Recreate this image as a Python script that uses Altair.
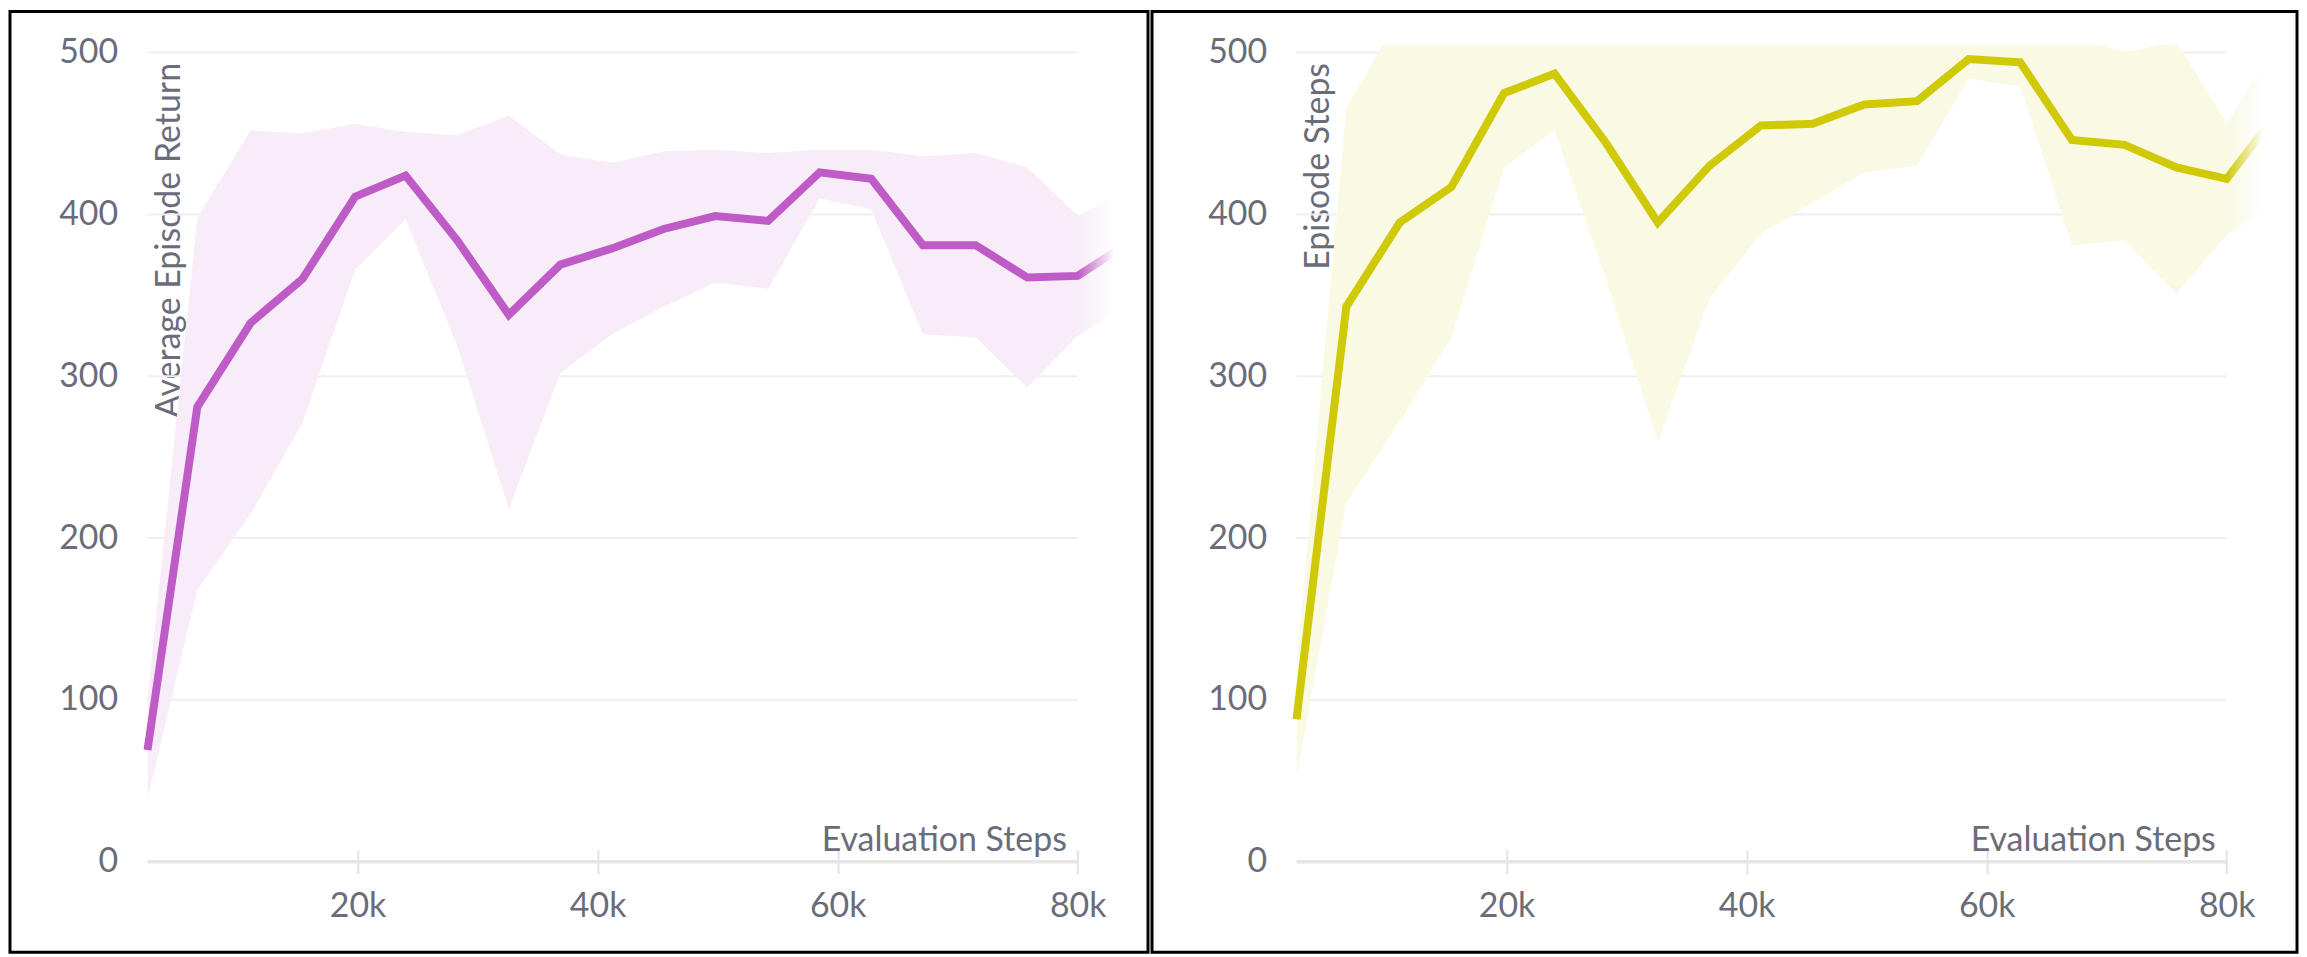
import altair as alt
import pandas as pd

# ---- data ----
steps = [2500, 6650, 11100, 15400, 19800, 24000, 28300, 32600, 36900, 41200,
         45500, 49800, 54200, 58500, 62800, 67100, 71500, 75800, 80000, 83100]

ret_mean = [69, 281, 333, 360, 411, 424, 384, 338, 369, 379,
            391, 399, 396, 426, 422, 381, 381, 361, 362, 377]
ret_max = [100, 398, 452, 450, 456, 451, 449, 461, 437, 432,
           439, 440, 438, 440, 440, 436, 438, 429, 399, 411]
ret_min = [39, 168, 215, 271, 366, 397, 319, 218, 302, 326,
           343, 358, 354, 410, 403, 326, 324, 293, 325, 339]

len_mean = [88, 343, 395, 417, 475, 487, 444, 395, 430, 455,
            456, 468, 470, 496, 494, 446, 443, 429, 422, 452]
len_max = [120, 466, 523, 530, 535, 530, 525, 515, 520, 528,
           530, 530, 530, 535, 530, 510, 500, 507, 456, 494]
len_min = [52, 222, 272, 324, 429, 452, 360, 259, 348, 388,
           407, 426, 430, 484, 479, 381, 384, 351, 387, 403]

y_ticks = [0, 100, 200, 300, 400, 500]
x_ticks = [20000, 40000, 60000, 80000]

# ---- style ----
FONT = "Lato"
TEXT = "#6b6c7a"
FS = 34
W, H = 972, 820
Y_MAX = 505
X_MIN, X_MAX = 2500, 83200
GRID_END = 80000
FADE_END = 84500


def panel(mean, lo, hi, color, band_color, title, frame_left):
    df = pd.DataFrame({"step": steps, "mean": mean, "lo": lo, "hi": hi})
    xs = alt.Scale(domain=[X_MIN, X_MAX], nice=False, zero=False)
    ys = alt.Scale(domain=[0, Y_MAX], nice=False)

    x_axis = alt.Axis(
        values=x_ticks, labelExpr="datum.value / 1000 + 'k'",
        domain=False, grid=False, ticks=True, tickSize=24, tickWidth=2,
        tickColor="#e4e4e8", offset=-12, labelFlush=False, labelOverlap=False,
        labelFont=FONT, labelFontSize=FS, labelColor=TEXT, labelPadding=43,
        labelBaseline="alphabetic",
        title="Evaluation Steps", titleFont=FONT, titleFontSize=FS,
        titleFontWeight="normal", titleColor=TEXT, titleAlign="right",
        titleBaseline="alphabetic", titleX=922, titleY=1,
    )
    y_axis = alt.Axis(
        values=y_ticks, domain=False, ticks=False, grid=False,
        labelFont=FONT, labelFontSize=FS, labelColor=TEXT, labelPadding=30,
        labelBaseline="middle",
        title=title, titleFont=FONT, titleFontSize=FS, titleFontWeight="normal",
        titleColor=TEXT, titleAngle=-90, titleAlign="right",
        titleBaseline="alphabetic", titleX=32, titleY=18,
    )

    grid_df = pd.DataFrame({"y": y_ticks[1:], "x0": [X_MIN] * 5, "x1": [GRID_END] * 5})
    grid = alt.Chart(grid_df).mark_rule(color="#efeff2", strokeWidth=2).encode(
        x=alt.X("x0:Q", scale=xs, axis=x_axis),
        x2="x1:Q",
        y=alt.Y("y:Q", scale=ys, axis=y_axis),
    )
    base_df = pd.DataFrame({"y": [0], "x0": [X_MIN], "x1": [GRID_END]})
    baseline = alt.Chart(base_df).mark_rule(color="#e6e6e9", strokeWidth=3.5).encode(
        x=alt.X("x0:Q", scale=xs, axis=x_axis),
        x2="x1:Q",
        y=alt.Y("y:Q", scale=ys, axis=y_axis),
    )
    band = alt.Chart(df).mark_area(color=band_color, clip=True).encode(
        x=alt.X("step:Q", scale=xs, axis=x_axis),
        y=alt.Y("lo:Q", scale=ys, axis=y_axis),
        y2="hi:Q",
    )
    line = alt.Chart(df).mark_line(color=color, strokeWidth=8, clip=False).encode(
        x=alt.X("step:Q", scale=xs, axis=x_axis),
        y=alt.Y("mean:Q", scale=ys, axis=y_axis),
    )
    fade_df = pd.DataFrame({"x0": [GRID_END], "x1": [FADE_END], "y0": [0], "y1": [Y_MAX]})
    fade = alt.Chart(fade_df).mark_rect(
        clip=False,
        fill=alt.Gradient(
            gradient="linear",
            stops=[alt.GradientStop(color="rgba(255,255,255,0)", offset=0),
                   alt.GradientStop(color="rgba(255,255,255,1)", offset=0.68),
                   alt.GradientStop(color="rgba(255,255,255,1)", offset=1)],
            x1=0, x2=1, y1=0, y2=0,
        )
    ).encode(
        x=alt.X("x0:Q", scale=xs, axis=x_axis),
        x2="x1:Q",
        y=alt.Y("y0:Q", scale=ys, axis=y_axis),
        y2="y1:Q",
    )
    frame = alt.Chart(pd.DataFrame({"a": [0]})).mark_rect(
        fillOpacity=0, stroke="black", strokeWidth=3
    ).encode(
        x=alt.value(frame_left), x2=alt.value(1004),
        y=alt.value(-33.2), y2=alt.value(911),
    )
    return alt.layer(grid, baseline, band, line, fade, frame).properties(width=W, height=H)


p1 = panel(ret_mean, ret_min, ret_max, "#bf5bc6", "#f7ecf8", "Average Episode Return", -138)
p2 = panel(len_mean, len_min, len_max, "#cfc906", "#f9f9e4", "Episode Steps", -145)

chart = alt.hconcat(p1, p2, spacing=0).properties(
    padding=0,
    background="white",
).configure_view(stroke=None)

chart.save("out.html", embed_options={"renderer": "svg", "actions": False})
